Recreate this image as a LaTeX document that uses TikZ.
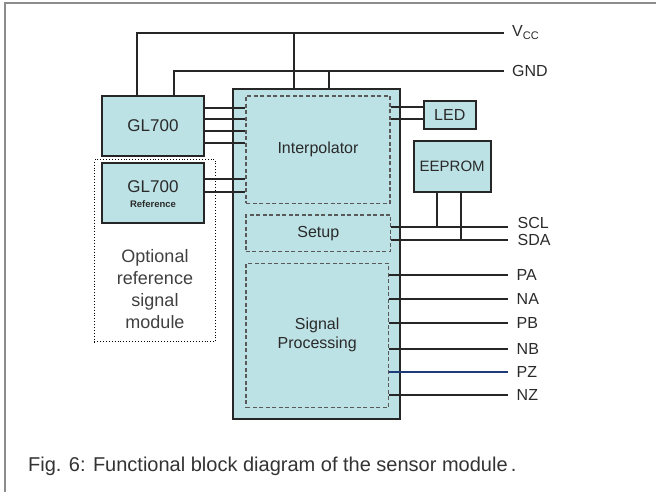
\documentclass[tikz,border=0pt]{standalone}
\usepackage{fontspec}
\setmainfont{Liberation Sans}
\definecolor{cyanfill}{HTML}{BDE2E5}
\definecolor{txt}{HTML}{2A2A2A}
\definecolor{pzblue}{HTML}{1F3A78}
\begin{document}
\begin{tikzpicture}[x=1pt,y=-1pt,
  blk/.style={draw=black!85, line width=2pt, fill=cyanfill, inner sep=0pt, text=txt},
  subblk/.style={draw=black!65, dash pattern=on 4pt off 2.5pt, line width=1.2pt, inner sep=0pt, fill=cyanfill, text=txt},
  wire/.style={line width=2pt, draw=black!85},
  lbl/.style={anchor=west, inner sep=0pt, text=txt, font=\fontsize{16}{19}\selectfont},
  bt/.style={font=\fontsize{16}{19}\selectfont}]
\useasboundingbox (0,0) rectangle (656,492);
\draw[line width=1.5pt, draw=black!45] (5,492) -- (5,3) -- (656,3);

% blocks
\node[blk, minimum width=102pt, minimum height=60pt, font=\fontsize{17}{20}\selectfont] (gl) at (153,126) {GL700};
\node[draw=black, dotted, line width=0.9pt, minimum width=121.4pt, minimum height=181.7pt, inner sep=0pt] (opt) at (155,250.8) {};
\node[blk, minimum width=102pt, minimum height=60pt] (ref) at (153,193.3) {};
\node[text=txt, font=\fontsize{17}{20}\selectfont, inner sep=0pt] (refA) at (153,186.7) {GL700};
\node[text=txt, font=\bfseries\fontsize{9.5}{11}\selectfont, inner sep=0pt] (refB) at (153,204) {Reference};
\node[text=black!75, align=center, font=\fontsize{18}{22}\selectfont, inner sep=0pt] (optlbl) at (155,289) {Optional\\reference\\signal\\module};

\node[blk, minimum width=166.7pt, minimum height=330pt] (main) at (316.7,254) {};
\node[subblk, bt, minimum width=144pt, minimum height=107.3pt] (interp) at (318,149.7) {Interpolator};
\node[subblk, bt, minimum width=144.7pt, minimum height=36.7pt] (setup) at (318.3,233.3) {Setup};
\node[subblk, bt, align=center, minimum width=142.3pt, minimum height=144pt] (sp) at (317.2,335.3) {Signal\\Processing};

\node[blk, line width=1.8pt, bt, minimum width=51.7pt, minimum height=27.7pt] (led) at (449.8,114.8) {LED};
\node[blk, line width=1.8pt, font=\fontsize{15}{18}\selectfont, minimum width=77pt, minimum height=51.6pt] (ee) at (452.2,166.5) {EEPROM};

% end points
\coordinate (vccend) at (504,33);
\coordinate (gndend) at (504,71);
\coordinate (sclend) at (508,227);
\coordinate (sdaend) at (508,240);
\coordinate (paend) at (508,275);
\coordinate (naend) at (508,299);
\coordinate (pbend) at (508,323);
\coordinate (nbend) at (508,349);
\coordinate (pzend) at (508,372);
\coordinate (nzend) at (508,395);

% supply
\draw[wire] (gl.north -| 137,0) |- (vccend);
\draw[wire] (main.north -| 294,0) -- (vccend -| 294,0);
\draw[wire] (gl.north -| 174,0) |- (gndend);
\draw[wire] (main.north -| 329,0) -- (gndend -| 329,0);

% GL700 to interpolator
\foreach \yy in {108,119,131,143}
  \draw[wire] (gl.east |- 0,\yy) -- (interp.west |- 0,\yy);
\foreach \yy in {179,192}
  \draw[wire] (ref.east |- 0,\yy) -- (interp.west |- 0,\yy);

% LED
\foreach \yy in {107,119}
  \draw[wire] (interp.east |- 0,\yy) -- (led.west |- 0,\yy);

% EEPROM bus
\draw[wire] (setup.east |- sclend) -- (sclend);
\draw[wire] (setup.east |- sdaend) -- (sdaend);
\draw[wire] (ee.south -| 437,0) -- (sclend -| 437,0);
\draw[wire] (ee.south -| 461,0) -- (sdaend -| 461,0);

% outputs
\draw[wire] (sp.east |- paend) -- (paend);
\draw[wire] (sp.east |- naend) -- (naend);
\draw[wire] (sp.east |- pbend) -- (pbend);
\draw[wire] (sp.east |- nbend) -- (nbend);
\draw[wire, draw=pzblue, line width=1.6pt] (sp.east |- pzend) -- (pzend);
\draw[wire] (sp.east |- nzend) -- (nzend);

% labels
\node[lbl] (vcclbl) at ([xshift=8pt]vccend) {V{\fontsize{11}{11}\selectfont\raisebox{-3pt}{CC}}};
\node[lbl] (gndlbl) at ([xshift=8pt]gndend) {GND};
\node[lbl] (scllbl) at ([xshift=9.5pt,yshift=4.5pt]sclend) {SCL};
\node[lbl] (sdalbl) at ([xshift=9.5pt,yshift=0.5pt]sdaend) {SDA};
\node[lbl] (palbl) at ([xshift=8.5pt]paend) {PA};
\node[lbl] (nalbl) at ([xshift=8.5pt]naend) {NA};
\node[lbl] (pblbl) at ([xshift=8.5pt]pbend) {PB};
\node[lbl] (nblbl) at ([xshift=8.5pt]nbend) {NB};
\node[lbl] (pzlbl) at ([xshift=8.5pt]pzend) {PZ};
\node[lbl] (nzlbl) at ([xshift=8.5pt]nzend) {NZ};

\node[anchor=base west, inner sep=0pt, text=black!80, font=\fontsize{20}{24}\selectfont] (cap) at (28,471) {Fig. 6: Functional block diagram of the sensor module\,.};
\end{tikzpicture}
\end{document}
